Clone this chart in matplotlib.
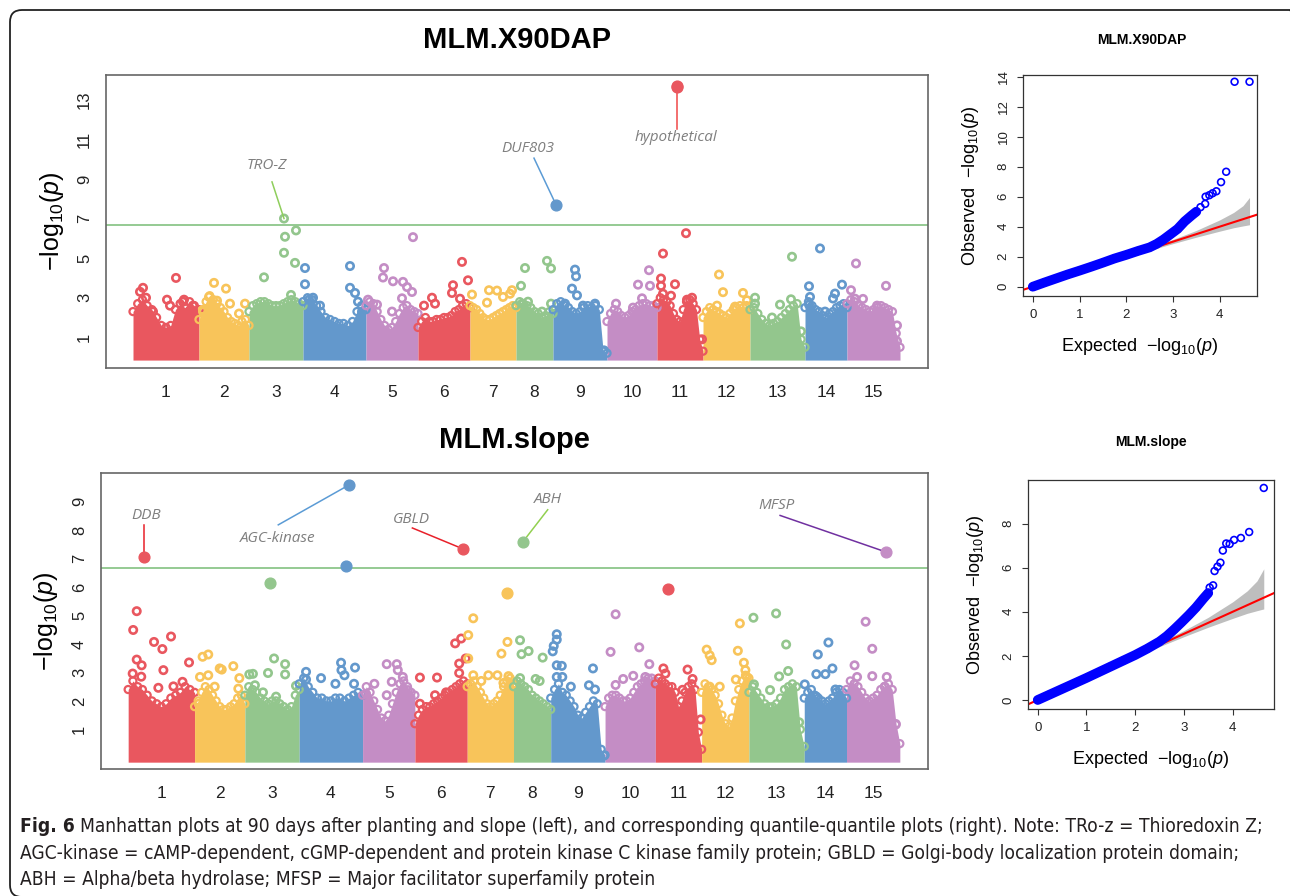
import numpy as np
import matplotlib.pyplot as plt
from matplotlib.patches import FancyBboxPatch
from matplotlib.transforms import IdentityTransform

plt.rcParams['font.family'] = ['Liberation Sans', 'DejaVu Sans']
plt.rcParams['mathtext.fontset'] = 'custom'
plt.rcParams['mathtext.rm'] = 'Liberation Sans'
plt.rcParams['mathtext.it'] = 'Liberation Sans:italic'

# chromosome lengths (Mb) and colours, cycling red/yellow/green/blue/purple
chrom_len = [66, 50, 54, 63, 52, 52, 46, 37, 54, 50, 46, 47, 55, 42, 53]
palette = ['#E9575F', '#F8C45A', '#93C68D', '#6398CC', '#C48DC5']
threshold = 6.66

# MLM.X90DAP: top of the dense SNP cloud per chromosome (-log10 p, evenly along chromosome)
x90_env = [
    [2.3, 2.7, 2.9, 2.6, 2.4, 2.0, 1.6, 1.5, 1.6, 2.4, 2.7, 2.5, 2.8, 2.6, 2.4],
    [1.9, 2.4, 2.8, 3.1, 2.9, 2.7, 2.5, 2.3, 2.0, 1.8, 1.7, 1.6, 1.8, 1.9, 1.6],
    [2.3, 2.6, 2.7, 2.8, 2.8, 2.7, 2.6, 2.6, 2.6, 2.7, 2.8, 2.9, 2.8, 2.7, 2.6],
    [2.8, 3.0, 2.9, 2.6, 2.3, 2.0, 1.9, 1.8, 1.7, 1.7, 1.6, 1.8, 2.3, 2.6, 2.4],
    [2.6, 2.8, 2.7, 2.3, 1.9, 1.6, 1.4, 1.5, 1.8, 2.2, 2.5, 2.6, 2.4, 2.3, 2.2],
    [1.5, 1.8, 2.0, 1.8, 1.8, 1.9, 1.9, 2.0, 2.0, 2.1, 2.3, 2.4, 2.6, 2.7, 2.5],
    [2.6, 2.5, 2.4, 2.2, 2.0, 1.9, 1.9, 2.0, 2.1, 2.2, 2.3, 2.4, 2.5, 2.6, 2.5],
    [2.6, 2.8, 2.7, 2.6, 2.5, 2.3, 2.2, 2.0, 2.1, 2.3, 2.2],
    [2.4, 2.7, 2.8, 2.6, 2.5, 2.3, 2.2, 2.3, 2.5, 2.6, 2.5, 2.6, 2.4, 0.3, 0.2],
    [1.8, 2.2, 2.4, 2.3, 2.1, 2.0, 2.1, 2.3, 2.4, 2.6, 2.7, 2.7, 2.6, 2.6, 2.5],
    [2.7, 3.0, 2.9, 2.8, 2.6, 2.2, 1.9, 1.8, 2.4, 2.8, 2.9, 2.7, 2.4, 0.9, 0.3],
    [2.0, 2.3, 2.5, 2.4, 2.3, 2.2, 2.1, 2.0, 2.2, 2.4, 2.5, 2.6, 2.5, 2.6, 2.4],
    [2.4, 2.5, 2.2, 1.9, 1.7, 1.6, 1.7, 1.8, 2.0, 2.2, 2.4, 2.6, 2.7, 0.9, 0.5],
    [2.5, 2.8, 2.6, 2.4, 2.3, 2.1, 2.0, 2.2, 2.3, 2.5, 2.6, 2.7, 2.5],
    [2.7, 2.9, 2.8, 2.6, 2.5, 2.4, 2.3, 2.4, 2.5, 2.6, 2.5, 2.4, 2.3, 1.2, 0.5],
]
# SNPs standing above the cloud: (position in chromosome, -log10 p)
x90_hits = [
    [(7, 3.3), (10, 3.5), (13, 3.0), (43, 4.0), (34, 2.9), (51, 2.9), (50, 2.8), (37, 2.6), (20, 2.3), (60, 2.6)],
    [(15, 3.75), (10, 3.04), (27, 3.46), (31, 2.7), (4, 2.3), (46, 2.7), (40, 2.2), (18, 2.85)],
    [(15, 4.03), (36, 6.08), (47, 6.4), (35, 5.27), (46, 4.76), (42, 3.14), (16, 2.55), (35, 7.0)],
    [(2, 4.5), (2, 3.68), (10, 3.0), (6, 2.9), (47, 4.6), (47, 3.5), (52, 3.24), (55, 2.8), (17, 2.6), (59, 2.3)],
    [(18, 4.5), (17, 4.02), (27, 3.83), (37, 3.8), (41, 3.54), (46, 3.29), (47, 6.06), (36, 2.97), (2, 2.9), (11, 2.65), (26, 2.3)],
    [(44, 4.81), (50, 3.88), (35, 3.63), (34, 3.24), (14, 3.0), (6, 2.6), (42, 2.95), (17, 2.7)],
    [(2, 3.16), (19, 3.38), (27, 3.36), (33, 3.04), (40, 3.2), (42, 3.38), (41, 2.3), (17, 2.75)],
    [(5, 3.6), (9, 4.5), (31, 4.86), (35, 4.48), (35, 2.7), (6, 2.7), (12, 2.8), (26, 2.3)],
    [(22, 4.42), (23, 4.08), (19, 3.46), (24, 3.12), (12, 2.7), (42, 2.7), (30, 2.6), (51, 0.34)],
    [(42, 4.39), (31, 3.66), (43, 3.6), (35, 2.97), (9, 2.7), (26, 2.5)],
    [(6, 5.23), (4, 3.97), (4, 3.6), (18, 3.68), (29, 6.26), (6, 3.2), (14, 3.1), (30, 2.9), (35, 3.0), (45, 0.9)],
    [(16, 4.17), (20, 3.28), (40, 3.24), (44, 2.87), (14, 2.6), (32, 2.55)],
    [(42, 5.07), (5, 3.0), (5, 2.7), (30, 2.65), (41, 2.92), (22, 2.0), (51, 1.3)],
    [(15, 5.49), (4, 3.58), (5, 3.04), (37, 3.66), (30, 3.21), (28, 2.96), (4, 2.65), (20, 2.3)],
    [(9, 4.73), (39, 3.6), (4, 3.38), (8, 2.95), (16, 2.94), (30, 2.6), (50, 1.6), (50, 0.8), (48, 0.4)],
]
# highlighted SNPs: (chromosome, position, -log10 p)
x90_lead = [(9, 3, 7.70), (11, 20, 13.70), (11, 20, 13.66)]

# MLM.slope
slope_env = [
    [2.4, 2.7, 2.5, 2.4, 2.2, 2.0, 1.9, 1.8, 1.9, 2.1, 2.2, 2.3, 2.5, 2.4, 2.3],
    [1.8, 2.0, 2.3, 2.5, 2.4, 2.2, 2.0, 1.8, 1.7, 1.7, 1.8, 1.9, 2.1, 2.2, 1.9],
    [2.2, 2.5, 2.4, 2.3, 2.1, 2.0, 1.9, 2.0, 2.0, 1.9, 1.8, 1.7, 1.8, 2.2, 2.4],
    [2.6, 2.8, 2.5, 2.3, 2.1, 2.1, 2.0, 2.0, 2.1, 2.1, 2.0, 2.1, 2.2, 2.3, 2.2],
    [2.2, 2.5, 2.3, 2.0, 1.7, 1.4, 1.3, 1.5, 1.9, 2.3, 2.6, 2.7, 2.5, 2.3, 2.2],
    [1.2, 1.5, 1.7, 1.8, 1.8, 1.9, 2.0, 2.1, 2.2, 2.3, 2.4, 2.5, 2.6, 2.7, 2.6],
    [2.5, 2.6, 2.7, 2.5, 2.3, 2.1, 1.9, 1.8, 1.9, 2.0, 2.2, 2.5, 2.7, 2.8, 2.6],
    [2.5, 2.7, 2.6, 2.5, 2.4, 2.2, 2.1, 2.0, 1.9, 1.8, 1.7],
    [2.1, 2.4, 2.6, 2.3, 2.2, 2.0, 1.8, 1.5, 1.4, 1.6, 1.8, 2.0, 1.9, 0.3, 0.1],
    [1.8, 2.1, 2.2, 2.2, 2.1, 2.0, 2.0, 2.1, 2.3, 2.5, 2.6, 2.7, 2.8, 2.8, 2.7],
    [2.6, 2.8, 2.7, 2.6, 2.5, 2.5, 2.3, 1.8, 2.0, 2.3, 2.5, 2.6, 2.4, 0.9, 0.3],
    [2.3, 2.6, 2.5, 2.4, 2.2, 1.9, 1.5, 1.2, 1.1, 1.4, 2.0, 2.4, 2.7, 2.9, 2.8],
    [2.3, 2.5, 2.3, 2.1, 1.9, 1.8, 1.8, 1.9, 2.1, 2.4, 2.5, 2.6, 2.5, 1.0, 0.4],
    [2.1, 2.3, 2.4, 2.2, 2.1, 2.0, 1.9, 2.0, 2.1, 2.3, 2.4, 2.3, 2.1],
    [2.4, 2.7, 2.6, 2.5, 2.3, 2.1, 2.0, 2.1, 2.2, 2.4, 2.5, 2.6, 2.4, 1.2, 0.5],
]
slope_hits = [
    [(8.5, 5.15), (5, 4.49), (25.7, 4.07), (34, 3.82), (42.6, 4.26), (35, 3.08), (60.5, 3.35), (8.5, 3.45), (13.4, 3.25), (4.5, 2.96), (13, 2.85), (54, 2.67), (45, 2.51), (30, 2.46)],
    [(8, 3.55), (13.6, 3.63), (5.4, 2.84), (13.6, 2.9), (25, 3.14), (27, 3.1), (38.5, 3.22), (44.5, 2.8), (43.5, 2.43), (20, 2.5), (4, 1.9)],
    [(29, 3.49), (40, 3.29), (40, 2.93), (23, 2.98), (4.4, 2.93), (8, 2.95), (50.8, 2.53), (10, 2.55), (18, 2.3), (31, 2.15)],
    [(6.8, 3.02), (6.8, 2.75), (21.7, 2.8), (41.6, 3.34), (42, 3.08), (45, 2.9), (55.5, 3.17), (36, 2.6), (54.5, 2.6)],
    [(24, 3.29), (34, 3.29), (35, 3.08), (40, 2.84), (29, 2.67), (11.7, 2.6), (3.4, 2.25), (24, 2.2), (45, 2.38)],
    [(5, 2.82), (22, 2.82), (46, 4.19), (40, 4.02), (44, 3.31), (50.5, 3.49), (44, 2.98), (31, 2.3), (20, 2.2), (5, 1.9)],
    [(6, 4.9), (1, 4.31), (1, 3.49), (6, 2.9), (40, 4.07), (34, 3.66), (21, 2.9), (30, 2.9), (41, 2.87), (14, 2.7), (36, 2.63)],
    [(6.5, 4.13), (8, 3.64), (15, 3.75), (29, 3.52), (6.5, 2.8), (22, 2.77), (26, 2.7)],
    [(6, 4.34), (6, 4.15), (3, 3.93), (2, 3.74), (6, 3.25), (11, 3.23), (6, 2.84), (11.5, 2.84), (20, 2.5), (42, 3.14), (38, 2.55), (44, 2.4), (53, 0.08)],
    [(10.5, 5.04), (5.5, 3.72), (34, 3.88), (44, 3.29), (10.5, 2.56), (18, 2.77), (28, 2.88), (40, 2.84)],
    [(8, 3.14), (10, 2.96), (32, 3.1), (37, 2.77), (27, 2.39), (45, 1.35)],
    [(5, 3.8), (8, 3.6), (10, 3.43), (38, 4.72), (36, 3.76), (42, 3.34), (43.5, 3.08), (45, 2.84), (34, 2.75), (8, 2.5), (18, 2.5)],
    [(4.5, 4.92), (27, 5.07), (37, 3.98), (5, 2.58), (30, 2.86), (39, 3.05), (21, 2.38), (50, 1.25)],
    [(24, 4.05), (13.5, 3.63), (0.5, 2.58), (12, 2.94), (21, 2.94), (28, 3.14), (31, 2.4), (12, 2.15)],
    [(19, 4.78), (25.6, 3.83), (8, 3.25), (10.5, 2.84), (25.6, 2.87), (40, 2.84), (38, 2.5), (49, 1.17), (48.5, 0.38)],
]
slope_lead = [(1, 16, 7.05), (4, 49.5, 9.58), (4, 47, 6.72), (3, 25, 6.15), (6, 47.5, 7.34),
              (8, 9, 7.57), (15, 39, 7.23), (11, 13, 5.94), (7, 40, 5.8)]

# QQ plots: (expected, observed) -log10 p
x90_qq_exp = [0.0, 0.25, 0.5, 0.75, 1.0, 1.25, 1.5, 1.75, 2.0, 2.25, 2.5, 2.65, 2.8, 2.95, 3.1, 3.25, 3.4, 3.5]
x90_qq_obs = [0.0, 0.28, 0.55, 0.82, 1.07, 1.33, 1.6, 1.88, 2.12, 2.38, 2.62, 2.85, 3.15, 3.5, 3.85, 4.35, 4.75, 5.0]
x90_tail_exp = [3.59, 3.69, 3.70, 3.78, 3.85, 3.93, 4.03, 4.14, 4.32, 4.64]
x90_tail_obs = [5.3, 5.52, 6.0, 6.1, 6.23, 6.36, 6.97, 7.66, 13.66, 13.66]

slope_qq_exp = [0.0, 0.25, 0.5, 0.75, 1.0, 1.25, 1.5, 1.75, 2.0, 2.25, 2.5, 2.65, 2.8, 2.95, 3.1, 3.25, 3.4, 3.5]
slope_qq_obs = [0.0, 0.25, 0.5, 0.75, 1.0, 1.26, 1.52, 1.78, 2.04, 2.33, 2.65, 2.9, 3.2, 3.52, 3.85, 4.2, 4.6, 4.85]
slope_tail_exp = [3.53, 3.60, 3.63, 3.69, 3.75, 3.80, 3.87, 3.94, 4.03, 4.17, 4.34, 4.64]
slope_tail_obs = [5.1, 5.2, 5.85, 6.05, 6.23, 6.78, 7.1, 7.08, 7.26, 7.35, 7.62, 9.62]

# 95% band around the null line
band_exp = [2.0, 2.5, 3.0, 3.5, 4.0, 4.3, 4.5, 4.64]
band_hi = [2.05, 2.6, 3.15, 3.75, 4.45, 4.95, 5.4, 5.95]
band_lo = [1.95, 2.42, 2.87, 3.3, 3.7, 3.93, 4.05, 4.13]

starts = np.concatenate([[0], np.cumsum(chrom_len)[:-1]])
mids = starts + np.array(chrom_len) / 2

W, H = 1290, 896
fig = plt.figure(figsize=(W / 100, H / 100), dpi=100)


def box(l, t, r, b):
    return [l / W, 1 - b / H, (r - l) / W, (b - t) / H]


def manhattan(ax, env, hits, lead, ylim, yticks):
    for i in range(len(chrom_len)):
        col = palette[i % 5]
        xs = starts[i] + np.linspace(0, chrom_len[i], len(env[i]))
        ax.fill_between(xs, -0.15, env[i], color=col, lw=0, zorder=1)
        ax.scatter(xs, env[i], s=26, facecolors='none', edgecolors=col, linewidths=1.6, zorder=2)
        hx = starts[i] + np.array([h[0] for h in hits[i]])
        hy = [h[1] for h in hits[i]]
        ax.scatter(hx, hy, s=28, facecolors='none', edgecolors=col, linewidths=1.9, zorder=2)
    for c, pos, val in lead:
        ax.scatter(starts[c - 1] + pos, val, s=60, color=palette[(c - 1) % 5], zorder=4)
    ax.axhline(threshold, color='#8cc68a', lw=1.3, zorder=0)
    ax.set_xlim(-27, 795)
    ax.set_ylim(*ylim)
    ax.set_xticks(mids)
    ax.set_xticklabels([str(i + 1) for i in range(len(chrom_len))], fontsize=12.5, color='#222222')
    ax.set_yticks(yticks)
    ax.set_yticklabels([str(t) for t in yticks], fontsize=12, color='#222222', rotation=90, va='center')
    ax.tick_params(axis='x', length=0, pad=12)
    ax.tick_params(axis='y', length=0, pad=10)
    for s in ax.spines.values():
        s.set_color('#666666')
        s.set_linewidth(1.2)
    ax.set_ylabel(r'$-\mathrm{log}_{10}(p)$', fontsize=18)
    ax.yaxis.set_label_coords(-0.049, 0.5)


def annotate(ax, text, txy, start, end, color):
    ax.plot([start[0], end[0]], [start[1], end[1]], color=color, lw=1.1, zorder=3)
    ax.text(txy[0], txy[1], text, ha='center', va='center', fontsize=11, style='italic',
            color='#7f7f7f', family=['Open Sans', 'DejaVu Sans'])


def lead_xy(lead, k):
    c, pos, val = lead[k]
    return starts[c - 1] + pos, val


ax1 = fig.add_axes(box(106, 75, 928, 368))
manhattan(ax1, x90_env, x90_hits, x90_lead, (-0.55, 14.25), [1, 3, 5, 7, 9, 11, 13])
troz = (starts[2] + 35, 7.0)
annotate(ax1, 'TRO-Z', (134, 9.7), (139, 8.85), troz, '#8fce5c')
annotate(ax1, 'DUF803', (395, 10.56), (401, 10.05), lead_xy(x90_lead, 0), '#5b9bd5')
annotate(ax1, 'hypothetical', (543, 11.07), (544, 11.5), lead_xy(x90_lead, 1), '#f04848')

ax2 = fig.add_axes(box(101, 473, 928, 769))
manhattan(ax2, slope_env, slope_hits, slope_lead, (-0.39, 10.0), list(range(1, 10)))
annotate(ax2, 'DDB', (18, 8.52), (16, 8.18), lead_xy(slope_lead, 0), '#e8202a')
annotate(ax2, 'AGC-kinase', (148.6, 7.71), (149.2, 8.18), lead_xy(slope_lead, 1), '#5b9bd5')
annotate(ax2, 'GBLD', (281.8, 8.38), (282.5, 8.07), lead_xy(slope_lead, 4), '#e8202a')
annotate(ax2, 'ABH', (417.6, 9.06), (417, 8.71), lead_xy(slope_lead, 5), '#92d050')
annotate(ax2, 'MFSP', (644.6, 8.86), (648, 8.51), lead_xy(slope_lead, 6), '#7030a0')

fig.text(517 / W, 1 - 40 / H, 'MLM.X90DAP', ha='center', va='center', fontsize=21, fontweight='bold')
fig.text(514 / W, 1 - 440 / H, 'MLM.slope', ha='center', va='center', fontsize=21, fontweight='bold')


def qqplot(ax, e, o, te, to, xlim, ylim, yticks):
    ax.fill_between(band_exp, band_lo, band_hi, color='#bebebe', lw=0, zorder=1)
    ax.axline((0, 0), slope=1, color='red', lw=1.5, zorder=2)
    ax.plot(e, o, color='blue', lw=7, solid_capstyle='round', zorder=3)
    ax.scatter(e, o, s=24, facecolors='none', edgecolors='blue', linewidths=1.2, zorder=4)
    ax.scatter(te, to, s=24, facecolors='none', edgecolors='blue', linewidths=1.2, zorder=4)
    ax.set_xlim(*xlim)
    ax.set_ylim(*ylim)
    ax.set_xticks([0, 1, 2, 3, 4])
    ax.set_yticks(yticks)
    ax.set_yticklabels([str(t) for t in yticks], rotation=90, va='center')
    ax.tick_params(labelsize=9.5, length=4.5, width=0.8, pad=5, color='#333333', labelcolor='#222222')
    for s in ax.spines.values():
        s.set_color('#333333')
        s.set_linewidth(0.9)
    ax.set_xlabel(r'Expected  $-\mathrm{log}_{10}(p)$', fontsize=13, labelpad=11)
    ax.set_ylabel(r'Observed  $-\mathrm{log}_{10}(p)$', fontsize=13, labelpad=12)


q1 = fig.add_axes(box(1023, 75, 1257, 296))
qqplot(q1, x90_qq_exp, x90_qq_obs, x90_tail_exp, x90_tail_obs, (-0.21, 4.8), (-0.62, 14.11),
       [0, 2, 4, 6, 8, 10, 12, 14])
q2 = fig.add_axes(box(1028, 480, 1274, 709))
qqplot(q2, slope_qq_exp, slope_qq_obs, slope_tail_exp, slope_tail_obs, (-0.2, 4.85), (-0.41, 9.98),
       [0, 2, 4, 6, 8])
fig.text(1142 / W, 1 - 40 / H, 'MLM.X90DAP', ha='center', va='center', fontsize=10, fontweight='bold')
fig.text(1151 / W, 1 - 442 / H, 'MLM.slope', ha='center', va='center', fontsize=10, fontweight='bold')

# caption, sized so the first line spans the text block
cap_font = ['Liberation Sans Narrow', 'DejaVu Sans']
cap_lines = [
    'Manhattan plots at 90 days after planting and slope (left), and corresponding quantile-quantile '
    'plots (right). Note: TRo-z = Thioredoxin Z;',
    'AGC-kinase = cAMP-dependent, cGMP-dependent and protein kinase C kinase family protein; '
    'GBLD = Golgi-body localization protein domain;',
    'ABH = Alpha/beta hydrolase; MFSP = Major facilitator superfamily protein',
]
cap_y = [826, 853, 879]
renderer = fig.canvas.get_renderer()
size = 13.5
head = fig.text(20 / W, 1 - cap_y[0] / H, 'Fig. 6', ha='left', va='center', fontsize=size,
                fontweight='bold', family=cap_font, stretch='condensed', color='#231f20')
body = [fig.text(20 / W, 1 - y / H, s, ha='left', va='center', fontsize=size,
                 family=cap_font, stretch='condensed', color='#231f20')
        for s, y in zip(cap_lines, cap_y)]
for _ in range(5):
    hx = head.get_window_extent(renderer).x1
    body[0].set_x((hx + 5) / W)
    right = max(body[0].get_window_extent(renderer).x1, body[1].get_window_extent(renderer).x1)
    if abs(right - 1262) < 3:
        break
    size *= (1262 - 20) / (right - 20)
    for t in [head] + body:
        t.set_fontsize(size)
hx = head.get_window_extent(renderer).x1
body[0].set_x((hx + 5) / W)

# rounded outer frame
frame = FancyBboxPatch((10, -1), 1292, 887, boxstyle='round,pad=0,rounding_size=12',
                       transform=IdentityTransform(), fill=False, edgecolor='#222222', lw=1.3)
fig.patches.append(frame)

fig.savefig('out.png', dpi=100)
